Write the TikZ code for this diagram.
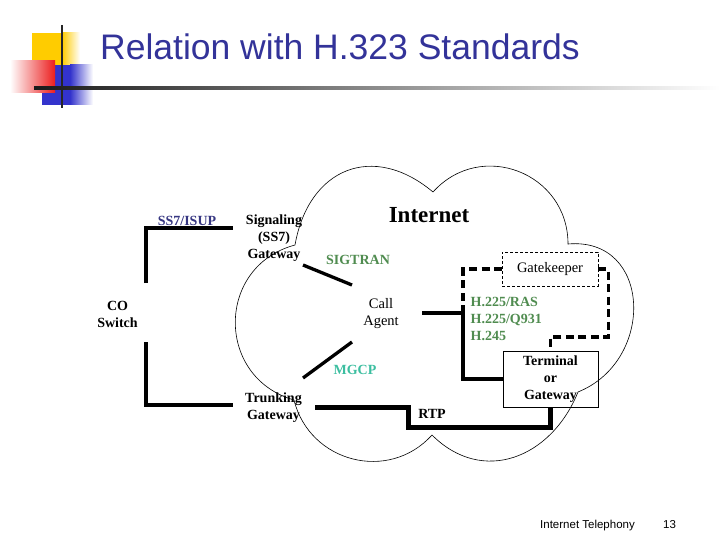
\documentclass[tikz,border=0pt]{standalone}
\usepackage{fontspec}
\setmainfont{Liberation Serif}
\newfontfamily\slidefont{Liberation Sans}
\definecolor{titleblue}{RGB}{51,51,153}
\definecolor{isupblue}{RGB}{55,55,130}
\definecolor{protogreen}{RGB}{80,140,80}
\definecolor{mgcpteal}{RGB}{60,190,160}
\definecolor{logoyellow}{RGB}{255,204,0}
\definecolor{logoblue}{RGB}{51,51,204}
\definecolor{logored}{RGB}{235,30,30}
\begin{document}
\begin{tikzpicture}[
    x=1pt, y=1pt,
    lbl/.style={font=\fontsize{14.5}{17}\selectfont,align=center,inner sep=0pt},
    lblb/.style={font=\fontsize{14}{17}\selectfont\bfseries,align=center,inner sep=0pt},
    proto/.style={lblb,text=protogreen},
    wire/.style={line width=3.3pt},
    rtpwire/.style={line width=5pt},
    sigdash/.style={line width=3.5pt,dash pattern=on 8pt off 4.5pt},
    gkbox/.style={lbl,draw,line width=0.6pt,dash pattern=on 3pt off 2pt,minimum width=96pt,minimum height=34pt},
    termbox/.style={lblb,draw,line width=0.7pt,minimum width=95pt,minimum height=56pt},
    foot/.style={font=\slidefont\fontsize{11.5}{13}\selectfont,inner sep=0pt,anchor=base west}
]
\useasboundingbox (0,0) rectangle (720,-540);

% logo and title bar
\fill[logoyellow] (32,-33) rectangle (62,-65);
\shade[left color=logoyellow,right color=white] (62,-33) rectangle (80,-65);
\fill[logoblue] (42,-65) rectangle (70,-105);
\shade[left color=logoblue,right color=white] (70,-65) rectangle (93,-105);
\shade[left color=white,right color=logored] (10,-61) rectangle (55,-93);
\draw[line width=2pt,black!85] (62,-25) -- (62,-108);
\shade[left color=black!90,right color=white] (34,-87) rectangle (720,-89.5);
\node[font=\slidefont\fontsize{35.5}{40}\selectfont,text=titleblue,anchor=base west,inner sep=0pt] (title) at (100,-60) {Relation with H.323 Standards};

% cloud
\coordinate (k1) at (294,-400);
\coordinate (k2) at (295,-245);
\coordinate (k3) at (433,-192);
\coordinate (k4) at (568,-244);
\coordinate (k5) at (578,-392);
\coordinate (k6) at (432,-435);
\draw[line width=0.6pt]
  (k1) to[out=164,in=195,looseness=1.35] (k2)
       to[out=80,in=140,looseness=1.35] (k3)
       to[out=48,in=90,looseness=1.26] (k4)
       to[out=5,in=22,looseness=1.45] (k5)
       to[out=248,in=-45,looseness=1.2] (k6)
       to[out=228,in=-76,looseness=1.16] (k1);

% labels
\node[lblb] (co)      at (117.5,-314) {CO\\Switch};
\node[lblb,text=isupblue] (isup) at (187,-221) {SS7/ISUP};
\node[lblb] (sgw)     at (274,-238) {Signaling\\(SS7)\\Gateway};
\node[lblb] (tgw)     at (273.5,-408) {Trunking\\Gateway};
\node[font=\fontsize{23}{26}\selectfont\bfseries,inner sep=0pt] (inet) at (429,-215) {Internet};
\node[proto]          (sigtran) at (358,-260) {SIGTRAN};
\node[lblb,text=mgcpteal] (mgcp) at (355,-370) {MGCP};
\node[lbl]            (agent) at (381,-313.5) {Call\\Agent};
\node[proto,align=left,anchor=west] (h225) at (470.5,-319) {H.225/RAS\\H.225/Q931\\H.245};
\node[gkbox]          (gk)   at (550,-269) {Gatekeeper};
\node[termbox]        (term) at (550.5,-379) {Terminal\\or\\Gateway};
\node[lblb]           (rtp)  at (432,-414) {RTP};

% connectors
\coordinate (coN)  at (146,-283);
\coordinate (coS)  at (146,-342);
\coordinate (sgwW) at (233,-228);
\coordinate (tgwW) at (233,-405);
\coordinate (sgwE) at (303,-265);
\coordinate (tgwNE) at (303,-378);
\coordinate (tgwE) at (315,-407);
\coordinate (agentNW) at (352,-285);
\coordinate (agentSW) at (352,-342);
\coordinate (agentE) at (422,-313);
\coordinate (hj)   at (463,-313);
\coordinate (rtpk) at (408,-427);

\draw[wire] (coN) |- (sgwW);
\draw[wire] (coS) |- (tgwW);
\draw[wire] (sgwE) -- (agentNW);
\draw[wire] (agentSW) -- (tgwNE);
\draw[wire] (agentE) -- (hj) |- (term.west);
\draw[sigdash] (hj) |- (gk.west);
\draw[sigdash] (gk.east) -| ++(10,-68) -| (term.north);
\draw[rtpwire] (tgwE) -| (rtpk) -| (term.south);

% footer
\node[foot] (foottxt) at (540,-528) {Internet Telephony};
\node[foot] (pgno)    at (663,-528) {13};
\end{tikzpicture}
\end{document}
